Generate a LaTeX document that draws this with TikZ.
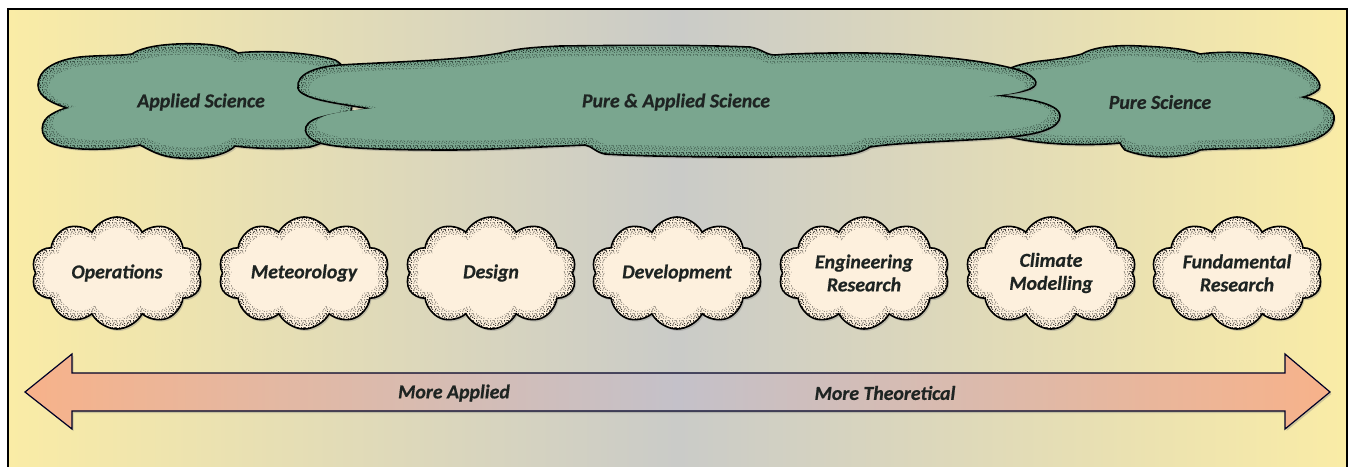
\documentclass[tikz,border=0pt]{standalone}
\usepackage{fontspec}
\setmainfont{Carlito}[BoldItalicFeatures={FakeBold=0.6}]
\usetikzlibrary{shapes.symbols,shadows,patterns}
\definecolor{bgedge}{RGB}{250,236,166}
\definecolor{bgmid}{RGB}{202,203,200}
\definecolor{cloudgreen}{RGB}{122,166,143}
\definecolor{cream}{RGB}{253,240,221}
\definecolor{salmon}{RGB}{247,178,138}
\definecolor{arrowmid}{RGB}{196,193,201}
\definecolor{txt}{RGB}{30,36,34}
\definecolor{stipg}{RGB}{15,28,22}
\pgfdeclarepatternformonly{stipple}{\pgfqpoint{0pt}{0pt}}{\pgfqpoint{7pt}{7pt}}{\pgfqpoint{7pt}{7pt}}{%
  \pgfpathcircle{\pgfqpoint{1pt}{1pt}}{0.75pt}
  \pgfpathcircle{\pgfqpoint{4.2pt}{2.0pt}}{0.7pt}
  \pgfpathcircle{\pgfqpoint{6.1pt}{0.5pt}}{0.65pt}
  \pgfpathcircle{\pgfqpoint{2.4pt}{3.9pt}}{0.75pt}
  \pgfpathcircle{\pgfqpoint{5.3pt}{4.6pt}}{0.7pt}
  \pgfpathcircle{\pgfqpoint{0.6pt}{5.8pt}}{0.75pt}
  \pgfpathcircle{\pgfqpoint{3.4pt}{6.3pt}}{0.65pt}
  \pgfpathcircle{\pgfqpoint{6.5pt}{3.0pt}}{0.7pt}
  \pgfpathcircle{\pgfqpoint{1.8pt}{2.6pt}}{0.6pt}
  \pgfpathcircle{\pgfqpoint{4.8pt}{6.1pt}}{0.6pt}
  \pgfusepath{fill}}
\tikzset{
  lbl/.style={font=\bfseries\itshape\fontsize{19.8}{23}\selectfont, text=txt, align=center, inner sep=0pt},
  shad/.style={drop shadow={shadow xshift=1.5pt, shadow yshift=-2pt, opacity=0.35}},
  cl/.style={cloud, cloud ignores aspect, inner sep=0pt, cloud puffs=10, cloud puff arc=125},
}
\newcommand\smallcloud[3]{%
  \node[cl, minimum width=171pt, minimum height=112pt, fill=cream, draw=black, line width=1.6pt, shad,
        postaction={pattern=stipple, pattern color=black}] (#1-shape) at (#2,273) {};
  \node[cl, minimum width=161pt, minimum height=102pt, fill=cream, fill opacity=0.5] at (#2,273) {};
  \node[cl, minimum width=150pt, minimum height=91pt, fill=cream] at (#2,273) {};
  \node[lbl] (#1) at (#2,273) {#3};
}
% helper: path, cx, cy, sx1, sy1, sx2, sy2
\newcommand\greenshape[7]{%
  \path[fill=cloudgreen, draw=black, line width=1.6pt, shad, postaction={pattern=stipple, pattern color=stipg}] #1;
  \begin{scope}[shift={(#2,#3)}, xscale=#4, yscale=#5, shift={(-#2,-#3)}]
    \fill[cloudgreen, fill opacity=0.5] #1;
  \end{scope}
  \begin{scope}[shift={(#2,#3)}, xscale=#6, yscale=#7, shift={(-#2,-#3)}]
    \fill[cloudgreen] #1;
  \end{scope}
}
\def\appath{(67,108) .. controls (55,104) and (38,98) .. (38,85)
 .. controls (38,70) and (55,60) .. (80,57)
 .. controls (100,55) and (120,56) .. (132,54)
 .. controls (145,45) and (175,43) .. (200,44)
 .. controls (220,45) and (230,48) .. (238,53)
 .. controls (260,50) and (310,52) .. (335,60)
 .. controls (350,68) and (355,90) .. (352,105)
 .. controls (350,125) and (335,140) .. (310,147)
 .. controls (280,150) and (250,148) .. (235,146)
 .. controls (225,156) and (200,160) .. (180,158)
 .. controls (160,157) and (150,150) .. (140,145)
 .. controls (115,150) and (70,152) .. (52,143)
 .. controls (38,136) and (40,120) .. (52,114)
 .. controls (57,111) and (62,109) .. (67,108) -- cycle}
\def\pspath{(1000,75) .. controls (1010,65) and (1030,62) .. (1050,60)
 .. controls (1065,58) and (1075,56) .. (1082,54)
 .. controls (1095,46) and (1120,45) .. (1140,46)
 .. controls (1170,47) and (1190,50) .. (1200,54)
 .. controls (1230,50) and (1275,53) .. (1295,63)
 .. controls (1315,72) and (1324,85) .. (1318,90)
 .. controls (1313,94) and (1308,96) .. (1303,97)
 .. controls (1320,100) and (1336,108) .. (1334,120)
 .. controls (1332,135) and (1310,144) .. (1280,147)
 .. controls (1250,149) and (1220,148) .. (1200,150)
 .. controls (1185,158) and (1150,160) .. (1125,150)
 .. controls (1122,147) and (1121,145) .. (1120,143)
 .. controls (1090,146) and (1040,145) .. (1010,137)
 .. controls (985,128) and (985,90) .. (1000,75) -- cycle}
\def\papath{(370,109) .. controls (345,104) and (300,100) .. (298,88)
  .. controls (296,74) and (315,67) .. (340,65)
  .. controls (390,62) and (470,60) .. (505,52)
  .. controls (520,48) and (540,47) .. (560,46)
  .. controls (640,45) and (700,45) .. (750,47)
  .. controls (762,49) and (766,55) .. (775,55)
  .. controls (800,53) and (860,52) .. (900,54)
  .. controls (950,57) and (990,62) .. (1015,69)
  .. controls (1035,75) and (1042,84) .. (1030,89)
  .. controls (1020,93) and (1005,94) .. (997,95)
  .. controls (1020,98) and (1060,102) .. (1060,116)
  .. controls (1060,128) and (1040,134) .. (1010,137)
  .. controls (970,141) and (900,142) .. (870,147)
  .. controls (860,153) and (850,155) .. (830,156)
  .. controls (760,158) and (650,157) .. (605,154)
  .. controls (595,152) and (592,146) .. (585,145)
  .. controls (540,147) and (480,150) .. (450,150)
  .. controls (400,150) and (340,149) .. (320,143)
  .. controls (302,137) and (300,124) .. (318,118)
  .. controls (335,113) and (355,111) .. (370,109) -- cycle}
\begin{document}
\begin{tikzpicture}[x=1pt,y=-1pt]
\useasboundingbox (0,0) rectangle (1349,466);
\clip (0,0) rectangle (1349,466);
% background
\path[left color=bgedge, right color=bgedge, middle color=bgmid, draw=black, line width=1.2pt] (8,9) rectangle (1347,480);
% top clouds
\greenshape{\appath}{195}{101}{0.968}{0.91}{0.93}{0.81}
\node[lbl] (applied) at (201,102) {Applied Science};
\greenshape{\pspath}{1165}{101}{0.971}{0.91}{0.937}{0.81}
\node[lbl] (pure) at (1160,102) {Pure Science};
\greenshape{\papath}{678}{101}{0.987}{0.91}{0.971}{0.81}
\node[lbl] (pureapplied) at (676,102) {Pure \& Applied Science};
% small clouds
\smallcloud{ops}{117}{Operations}
\smallcloud{met}{304}{Meteorology}
\smallcloud{des}{491}{Design}
\smallcloud{dev}{677}{Development}
\smallcloud{eng}{864}{Engineering\\Research}
\smallcloud{cli}{1051}{Climate\\Modelling}
\smallcloud{fun}{1237}{Fundamental\\Research}
% arrow
\path[left color=salmon, right color=salmon, middle color=arrowmid, draw=black!85!blue, line width=1.2pt, shad]
  (25,392) -- (72,354) -- (72,373) -- (1285,373) -- (1285,354) -- (1330,392) -- (1285,429) -- (1285,411) -- (72,411) -- (72,429) -- cycle;
\node[lbl] (moreapplied) at (454,393) {More Applied};
\node[lbl] (moretheo) at (885,393) {More Theoretical};
\end{tikzpicture}
\end{document}
